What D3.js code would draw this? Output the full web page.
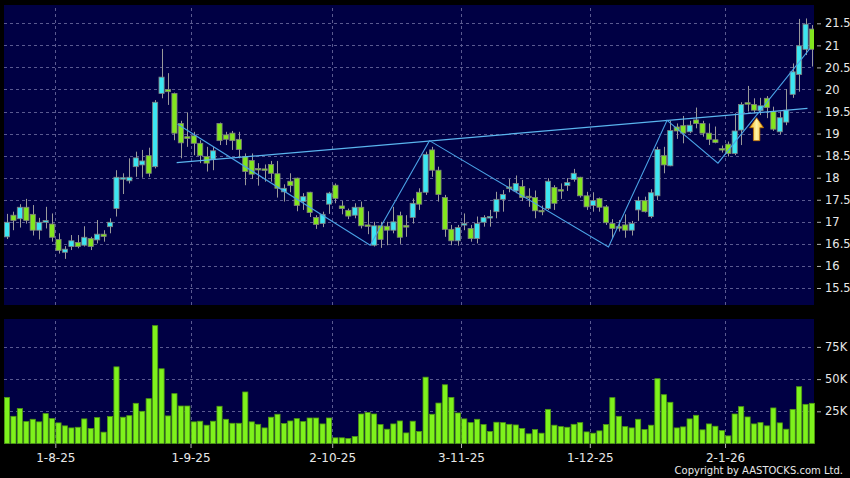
<!DOCTYPE html>
<html>
<head>
<meta charset="utf-8">
<script src="https://cdn.jsdelivr.net/npm/d3@7"></script>
<style>
body { margin: 0; background: #000; }
svg { display: block; font-family: "DejaVu Sans", sans-serif; }
</style>
</head>
<body>
<svg width="850" height="478"></svg>
<script>
// trading days shown on the chart
const dates = [
	'2025-07-22','2025-07-23','2025-07-24','2025-07-25','2025-07-28','2025-07-29','2025-07-30','2025-07-31',
	'2025-08-01','2025-08-04','2025-08-05','2025-08-06','2025-08-07','2025-08-08','2025-08-11','2025-08-12',
	'2025-08-13','2025-08-14','2025-08-15','2025-08-18','2025-08-19','2025-08-20','2025-08-21','2025-08-22',
	'2025-08-25','2025-08-26','2025-08-27','2025-08-28','2025-08-29',
	'2025-09-01','2025-09-02','2025-09-03','2025-09-04','2025-09-05','2025-09-08','2025-09-09','2025-09-10',
	'2025-09-11','2025-09-12','2025-09-15','2025-09-16','2025-09-17','2025-09-18','2025-09-19','2025-09-22',
	'2025-09-23','2025-09-24','2025-09-25','2025-09-26','2025-09-29','2025-09-30',
	'2025-10-02','2025-10-03','2025-10-06','2025-10-08','2025-10-09','2025-10-10','2025-10-13','2025-10-14',
	'2025-10-15','2025-10-16','2025-10-17','2025-10-20','2025-10-21','2025-10-22','2025-10-23','2025-10-24',
	'2025-10-27','2025-10-28','2025-10-30','2025-10-31',
	'2025-11-03','2025-11-04','2025-11-05','2025-11-06','2025-11-07','2025-11-10','2025-11-11','2025-11-12',
	'2025-11-13','2025-11-14','2025-11-17','2025-11-18','2025-11-19','2025-11-20','2025-11-21','2025-11-24',
	'2025-11-25','2025-11-26','2025-11-27','2025-11-28',
	'2025-12-01','2025-12-02','2025-12-03','2025-12-04','2025-12-05','2025-12-08','2025-12-09','2025-12-10',
	'2025-12-11','2025-12-12','2025-12-15','2025-12-16','2025-12-17','2025-12-18','2025-12-19','2025-12-22',
	'2025-12-23','2025-12-24','2025-12-29','2025-12-30','2025-12-31',
	'2026-01-02','2026-01-05','2026-01-06','2026-01-07','2026-01-08','2026-01-09','2026-01-12','2026-01-13',
	'2026-01-14','2026-01-15','2026-01-16','2026-01-19','2026-01-20','2026-01-21'
];

const open = [
	16.66,17.15,17.07,17.33,17.17,16.81,16.99,16.95,16.60,16.31,16.44,16.53,16.47,16.62,16.59,16.72,16.89,17.30,17.99,17.93,
	18.25,18.29,18.50,18.25,19.91,20.00,19.91,19.23,18.93,18.95,18.78,18.48,18.42,19.23,18.97,19.01,18.87,18.48,18.39,18.21,
	18.20,18.30,18.09,17.68,17.92,17.99,17.46,17.67,17.10,16.96,17.40,17.83,17.36,17.26,17.15,17.33,16.93,16.47,16.91,16.90,
	16.81,17.14,16.92,17.10,17.67,17.67,18.63,18.17,17.55,16.83,16.57,16.96,16.85,16.62,16.99,17.11,17.23,17.51,17.79,17.70,
	17.80,17.58,17.55,17.26,17.30,17.78,17.73,17.82,17.96,18.01,17.59,17.37,17.53,17.34,16.96,16.89,16.93,16.81,17.27,17.48,
	17.12,17.59,18.50,18.27,19.15,19.18,19.04,19.31,19.23,19.01,18.86,18.66,18.76,18.55,19.08,19.70,19.66,19.52,19.80,19.50,
	19.04,19.26,19.89,20.34,20.91,21.37
];
const high = [
	17.18,17.23,17.40,17.52,17.38,17.09,17.34,17.19,16.74,16.45,16.70,16.70,16.90,16.66,17.04,16.81,17.08,18.17,18.10,18.44,
	18.59,18.63,18.68,19.76,20.92,20.37,19.93,19.29,19.48,19.04,18.85,18.70,18.70,19.25,19.04,19.06,19.04,18.55,18.55,18.33,
	18.30,18.38,18.38,17.85,18.10,18.00,17.65,17.68,17.15,17.23,17.68,17.87,17.47,17.30,17.42,17.46,17.24,17.00,17.00,17.00,
	17.34,17.23,17.15,17.53,17.76,18.59,18.70,18.25,17.61,16.93,16.93,17.19,16.93,17.12,17.15,17.27,17.68,17.72,17.97,18.05,
	17.95,17.76,17.71,17.37,17.99,17.83,17.87,17.99,18.20,18.02,17.68,17.67,17.55,17.38,17.06,17.04,17.17,17.02,17.57,17.57,
	17.74,18.70,18.70,19.29,19.23,19.40,19.29,19.59,19.29,19.23,19.16,18.73,18.82,19.46,19.71,20.08,19.80,19.81,19.85,19.61,
	19.50,20.01,20.59,21.60,21.61,21.46
];
const low = [
	16.61,16.81,16.87,16.96,16.69,16.60,16.85,16.55,16.28,16.16,16.36,16.40,16.44,16.36,16.51,16.55,16.74,17.12,17.63,17.87,
	18.02,18.00,18.02,18.21,19.80,19.65,18.85,18.44,18.70,18.51,18.33,18.14,18.17,18.74,18.74,18.63,18.44,17.83,17.97,17.82,
	17.91,17.91,17.55,17.46,17.67,17.24,17.27,17.11,16.84,16.88,17.18,17.42,17.17,17.06,17.08,16.85,16.72,16.44,16.41,16.47,
	16.74,16.50,16.66,16.96,17.27,17.61,18.02,17.46,16.66,16.47,16.46,16.81,16.55,16.51,16.89,16.89,17.08,17.23,17.67,17.65,
	17.47,17.34,17.08,17.15,17.27,17.27,17.52,17.70,17.91,17.55,17.27,17.23,17.23,16.93,16.62,16.78,16.64,16.69,17.02,17.21,
	17.08,17.49,18.10,18.26,18.88,18.78,19.01,19.12,18.93,18.74,18.78,18.57,18.48,18.51,18.74,19.50,19.46,19.42,19.35,19.06,
	18.98,19.19,19.81,19.95,20.78,20.52
];
const close = [
	16.99,17.03,17.33,17.03,16.81,16.99,17.03,16.65,16.35,16.38,16.57,16.44,16.65,16.44,16.72,16.67,16.99,18.01,18.00,18.01,
	18.45,18.38,18.10,19.71,20.28,19.95,19.01,18.79,18.89,18.78,18.50,18.33,18.61,18.84,18.87,18.84,18.64,18.14,18.08,18.19,
	18.19,18.10,17.76,17.76,17.82,17.37,17.57,17.21,16.94,17.17,17.65,17.53,17.30,17.13,17.33,16.91,16.92,16.91,16.60,16.81,
	17.00,16.65,16.88,17.42,17.40,18.53,18.17,17.62,16.83,16.57,16.87,16.96,16.62,16.96,17.10,17.12,17.51,17.62,17.77,17.87,
	17.55,17.55,17.25,17.23,17.92,17.42,17.71,17.89,18.10,17.59,17.34,17.48,17.33,16.98,16.85,16.87,16.81,16.96,17.48,17.23,
	17.66,18.64,18.29,19.07,19.06,19.01,19.19,19.23,19.01,18.87,18.80,18.64,18.55,19.06,19.66,19.68,19.53,19.63,19.59,19.10,
	19.36,19.53,20.40,20.99,21.48,20.91
];
// volume in thousands of shares
const volume = [
	35.8,21.1,27.1,17.0,18.8,16.8,23.2,19.3,16.0,13.7,12.1,12.6,19.1,11.6,20.1,8.8,20.9,59.5,20.4,21.6,
	31.2,25.0,34.8,91.5,58.0,21.4,38.7,29.1,29.1,16.8,17.3,14.2,17.3,28.9,18.8,15.7,15.7,40.0,16.8,14.9,
	12.1,20.4,22.7,15.5,17.5,19.3,17.0,19.8,19.8,15.2,19.8,4.4,4.4,3.9,5.4,22.9,24.0,22.9,14.7,11.1,
	15.2,17.5,8.2,17.3,9.3,51.5,22.7,31.4,45.6,35.8,23.7,19.1,16.2,18.8,14.7,9.3,16.5,16.2,14.9,14.4,
	11.6,7.5,10.8,8.0,26.5,14.2,13.1,12.6,14.9,16.2,9.0,8.0,9.8,14.7,35.6,21.1,13.1,12.1,18.8,10.8,
	14.2,50.3,37.9,32.0,12.1,12.9,19.1,21.9,10.6,15.2,13.4,10.0,5.9,22.9,28.6,20.6,15.2,16.2,13.7,27.6,
	16.0,11.1,26.5,44.1,30.4,31.2
];

const tickDates = ['2025-08-01','2025-09-01','2025-10-02','2025-11-03','2025-12-01','2026-01-02'];
const tickLabels = ['1-8-25','1-9-25','2-10-25','3-11-25','1-12-25','2-1-26'];
const priceTicks = [15.5,16,16.5,17,17.5,18,18.5,19,19.5,20,20.5,21,21.5];
const volumeTicks = [25,50,75];

// drawn annotations: [bar index, price]
const neckline = [[26.35,18.34],[124.3,19.57]];
const zigzag = [[26.5,19.21],[56.4,16.47],[65.6,18.84],[93.4,16.43],[102.5,19.3],[110.4,18.33],[124.7,20.93]];
const arrowMark = { i: 116.4, top: 19.36, bottom: 18.84 };

const svg = d3.select('svg');
const pricePanel = { x: 4, y: 5, w: 810, h: 300 };
const volPanel = { x: 4, y: 319, w: 810, h: 125 };

const xScale = d3.scaleBand().domain(dates).range([3.78, 815.2]).paddingInner(0.2).paddingOuter(0.1);
const step = xScale.step();
const bw = xScale.bandwidth();
const xEdge = d3.scalePoint().domain(dates).range([3.78, 3.78 + (dates.length - 1) * step]);
const xAt = (i) => xScale(dates[0]) + bw / 2 + i * step;

const yScale = d3.scaleLinear().domain([15.5, 21.5]).range([288.0, 23.3]);
const vScale = d3.scaleLinear().domain([0, 75]).range([443.5, 346.9]);

const bg = '#000044';
const gridColor = '#5a5a90';

// panels
[pricePanel, volPanel].forEach((p) => {
	svg.append('rect').attr('x', p.x).attr('y', p.y).attr('width', p.w).attr('height', p.h).attr('fill', bg);
});

svg.append('defs').append('clipPath').attr('id', 'clipPrice')
	.append('rect').attr('x', pricePanel.x).attr('y', pricePanel.y).attr('width', pricePanel.w).attr('height', pricePanel.h);

// horizontal grid
svg.append('g').attr('class', 'grid')
	.attr('transform', `translate(${pricePanel.x},0)`)
	.call(d3.axisLeft(yScale).tickValues(priceTicks).tickSize(-pricePanel.w).tickFormat(''))
	.call((g) => g.select('.domain').remove());
svg.append('g').attr('class', 'grid')
	.attr('transform', `translate(${volPanel.x},0)`)
	.call(d3.axisLeft(vScale).tickValues(volumeTicks).tickSize(-volPanel.w).tickFormat(''))
	.call((g) => g.select('.domain').remove());

// vertical grid (month starts)
svg.append('g').attr('class', 'grid')
	.attr('transform', `translate(0,${pricePanel.y + pricePanel.h})`)
	.call(d3.axisBottom(xEdge).tickValues(tickDates).tickSize(-pricePanel.h).tickFormat(''))
	.call((g) => g.select('.domain').remove());
svg.append('g').attr('class', 'grid')
	.attr('transform', `translate(0,${volPanel.y + volPanel.h})`)
	.call(d3.axisBottom(xEdge).tickValues(tickDates).tickSize(-volPanel.h).tickFormat(''))
	.call((g) => g.select('.domain').remove());

svg.selectAll('.grid line')
	.attr('stroke', gridColor)
	.attr('stroke-width', 1)
	.attr('stroke-dasharray', '3,3')
	.attr('shape-rendering', 'crispEdges');

// candles
const bars = dates.map((d, i) => ({ d, o: open[i], h: high[i], l: low[i], c: close[i], v: volume[i] }));
const candles = svg.append('g').attr('clip-path', 'url(#clipPrice)')
	.selectAll('g').data(bars).enter().append('g');

candles.append('line')
	.attr('x1', (b) => Math.round(xScale(b.d) + bw / 2) + 0.5)
	.attr('x2', (b) => Math.round(xScale(b.d) + bw / 2) + 0.5)
	.attr('y1', (b) => yScale(b.h))
	.attr('y2', (b) => yScale(b.l))
	.attr('stroke', '#9a9a9a');

candles.append('rect')
	.attr('x', (b) => xScale(b.d))
	.attr('width', bw)
	.attr('y', (b) => yScale(Math.max(b.o, b.c)))
	.attr('height', (b) => Math.max(1.5, Math.abs(yScale(b.o) - yScale(b.c))))
	.attr('fill', (b) => (b.c >= b.o ? '#3ce6f2' : '#82e61e'))
	.attr('stroke', '#808080')
	.attr('stroke-width', 0.8);

// trend lines
const line = d3.line().x((p) => xAt(p[0])).y((p) => yScale(p[1]));
svg.append('path').datum(neckline).attr('d', line).attr('fill', 'none').attr('stroke', '#5ab4ee').attr('stroke-width', 1.2);
svg.append('path').datum(zigzag).attr('d', line).attr('fill', 'none').attr('stroke', '#4aa2e6').attr('stroke-width', 1.1);

// arrow
const grad = svg.select('defs').append('linearGradient').attr('id', 'arrowGrad')
	.attr('x1', 0).attr('x2', 1).attr('y1', 0).attr('y2', 0);
grad.append('stop').attr('offset', '0%').attr('stop-color', '#f5b010');
grad.append('stop').attr('offset', '50%').attr('stop-color', '#fff5a8');
grad.append('stop').attr('offset', '100%').attr('stop-color', '#f5b010');
const ax = xAt(arrowMark.i);
const aTop = yScale(arrowMark.top);
const aBot = yScale(arrowMark.bottom);
const arrowPath = d3.path();
arrowPath.moveTo(ax, aTop);
arrowPath.lineTo(ax + 7, aTop + 10);
arrowPath.lineTo(ax + 3.2, aTop + 10);
arrowPath.lineTo(ax + 3.2, aBot);
arrowPath.lineTo(ax - 3.2, aBot);
arrowPath.lineTo(ax - 3.2, aTop + 10);
arrowPath.lineTo(ax - 7, aTop + 10);
arrowPath.closePath();
svg.append('path').attr('d', arrowPath.toString()).attr('fill', 'url(#arrowGrad)').attr('stroke', '#c07000').attr('stroke-width', 0.8);

// volume bars
svg.append('g').selectAll('rect').data(bars).enter().append('rect')
	.attr('x', (b) => xScale(b.d))
	.attr('width', bw)
	.attr('y', (b) => vScale(b.v))
	.attr('height', (b) => vScale(0) - vScale(b.v))
	.attr('fill', '#7ef21c')
	.attr('stroke', '#4f9a12')
	.attr('stroke-width', 0.8);

// right axes
const styleAxis = (g) => {
	g.select('.domain').remove();
	g.selectAll('line').attr('stroke', '#b0b0b0');
	g.selectAll('text').attr('fill', '#e8e8e8').attr('font-size', '11.5px').attr('font-family', '"DejaVu Sans", sans-serif');
};
svg.append('g').attr('transform', 'translate(817,0)')
	.call(d3.axisRight(yScale).tickValues(priceTicks).tickSize(4).tickPadding(4).tickFormat((d) => d))
	.call(styleAxis);
svg.append('g').attr('transform', 'translate(817,0)')
	.call(d3.axisRight(vScale).tickValues(volumeTicks).tickSize(4).tickPadding(4).tickFormat((d) => d + 'K'))
	.call(styleAxis);

// bottom axis
svg.append('g').attr('transform', `translate(0,${volPanel.y + volPanel.h})`)
	.call(d3.axisBottom(xEdge).tickValues(tickDates).tickSize(4).tickPadding(5).tickFormat((d, i) => tickLabels[i]))
	.call(styleAxis)
	.call((g) => g.selectAll('text').attr('font-size', '12px'));

svg.append('text')
	.attr('x', 843).attr('y', 474)
	.attr('text-anchor', 'end')
	.attr('fill', '#e8e8e8')
	.attr('font-size', '10px')
	.text('Copyright by AASTOCKS.com Ltd.');
</script>
</body>
</html>
